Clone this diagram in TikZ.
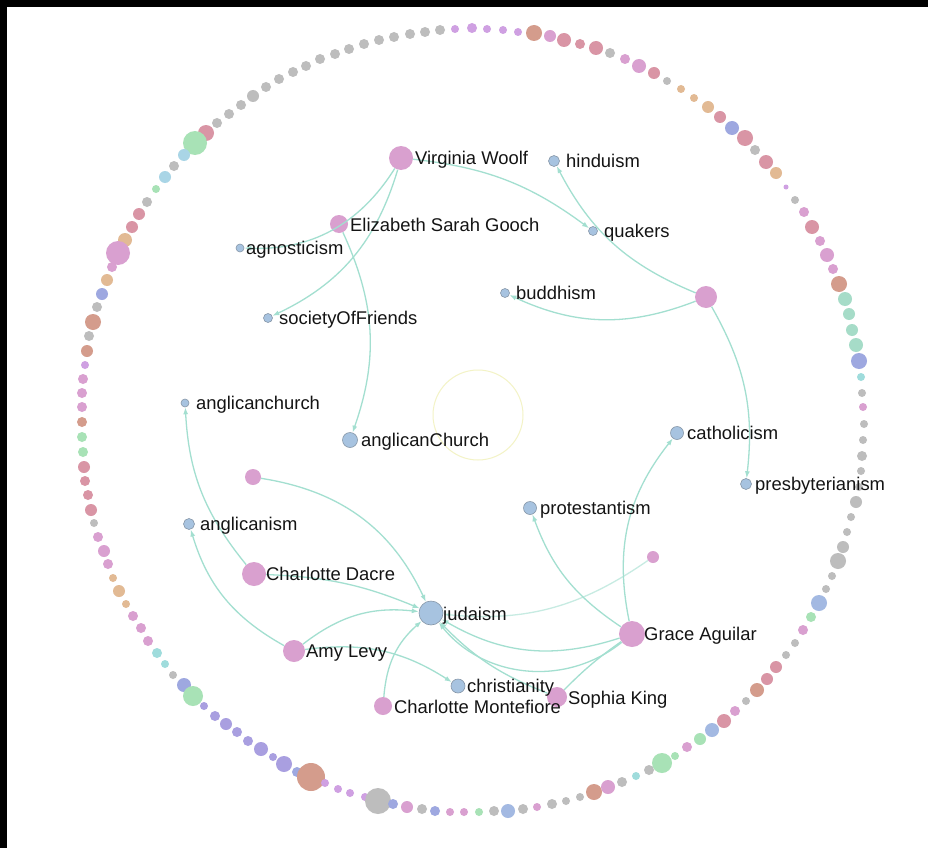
\documentclass[tikz,border=0pt]{standalone}
\usepackage{fontspec}
\setmainfont{Liberation Sans}
\usetikzlibrary{arrows.meta}
\definecolor{edgec}{HTML}{A3DFD0}
\definecolor{pinkn}{HTML}{D9A0CF}
\definecolor{bluen}{HTML}{A7C3E0}
\definecolor{bluestroke}{HTML}{8797A8}
\definecolor{yelc}{HTML}{F3F3C6}
\definecolor{gr}{HTML}{BDBDBD}
\definecolor{pk}{HTML}{D9A0D0}
\definecolor{rs}{HTML}{D995A5}
\definecolor{sm}{HTML}{D49C8C}
\definecolor{tn}{HTML}{E2BA94}
\definecolor{pu}{HTML}{CFA0E2}
\definecolor{bp}{HTML}{9EA8E0}
\definecolor{lv}{HTML}{A99FE0}
\definecolor{gn}{HTML}{A8E2B6}
\definecolor{tg}{HTML}{A6DCC8}
\definecolor{lb}{HTML}{A9D5E6}
\definecolor{bl}{HTML}{A3B9E2}
\definecolor{tl}{HTML}{9FDCDC}
\begin{document}
\begin{tikzpicture}[x=1pt,y=1pt,
  pn/.style={circle,fill=pinkn,draw=none,inner sep=0pt,minimum size=#1},
  bn/.style={circle,fill=bluen,draw=bluestroke,line width=0.6pt,inner sep=0pt,minimum size=#1},
  edge/.style={draw=edgec,line width=1.3pt,-{Latex[length=7pt,width=5pt]}},
  lbl/.style={anchor=base west,inner sep=0pt,font=\fontsize{18.4}{21}\selectfont,text=black!92}]
\useasboundingbox (0,0) rectangle (928,-848);
\fill[white] (0,0) rectangle (928,-848);
\fill[black] (0,0) rectangle (928,-7);
\fill[black] (0,0) rectangle (7,-848);
% ring of dots
\foreach \x/\y/\r/\c in {
472/28/5/pu,455/29/4/pu,440/30/5/gr,425/32/5/gr,410/34/5/gr,394/37/5/gr,379/40/5/gr,364/44/5/gr,349/49/5/gr,335/54/5/gr,320/59/5/gr,306/66/5/gr,293/72/5/gr,279/79/5/gr,266/87/5/gr,253/96/6/gr,241/105/5/gr,229/114/5/gr,217/123/5/gr,
206/133/8/rs,195/143/12/gn,184/155/6/lb,174/166/5/gr,165/177/6/lb,156/189/4/gn,147/202/5/gr,139/214/6/rs,132/227/6/rs,125/240/7/tn,118/253/12/pk,112/267/5/pk,107/280/6/tn,102/294/6/bp,97/307/5/gr,93/322/8/sm,89/336/5/gr,87/351/6/sm,85/365/4/pu,83/379/5/pk,82/393/5/pk,82/407/5/pk,82/422/5/sm,
82/437/5/gn,83/452/5/gn,84/467/6/rs,85/481/5/rs,88/495/5/rs,91/510/6/rs,94/523/4/gr,98/537/5/pk,104/551/6/pk,108/564/5/pk,113/578/4/tn,119/591/6/tn,126/604/4/tn,133/616/5/pk,141/628/5/pk,148/641/5/pk,157/653/5/tl,165/664/4/tl,173/675/4/gr,184/685/7/bp,193/696/10/gn,
204/706/4/lv,215/716/5/lv,226/724/6/lv,237/732/5/lv,248/741/5/lv,261/749/7/lv,273/757/4/lv,284/764/8/lv,297/772/5/bp,311/777/14/sm,325/783/4/pu,338/789/4/pu,350/793/4/pu,365/797/4/pu,378/801/13/gr,393/804/5/bp,407/807/6/pk,422/809/5/gr,435/811/5/bp,450/812/4/pk,464/812/4/pk,
479/812/4/gn,494/811/5/gr,508/811/7/bl,523/809/5/gr,537/807/4/pk,552/804/5/gr,566/801/4/gr,580/797/4/gr,594/792/8/sm,608/787/7/pk,622/782/5/gr,636/776/4/tl,649/770/5/gr,662/763/10/gn,675/756/4/gn,687/747/5/pk,700/739/6/gn,712/730/7/bl,724/721/7/rs,735/711/5/pk,746/701/4/gr,757/690/7/sm,767/679/6/rs,776/667/6/rs,786/655/4/gr,795/643/4/gr,803/630/5/pk,811/617/5/gn,819/603/8/bl,826/589/4/gr,832/576/4/gr,838/561/8/gr,843/547/6/gr,847/532/4/gr,851/517/4/gr,856/502/6/gr,859/487/4/gr,861/471/4/gr,862/456/5/gr,863/440/4/gr,864/424/4/gr,
863/407/4/pk,862/393/4/gr,861/377/4/tl,859/361/8/bp,856/345/7/tg,852/330/6/tg,849/314/6/tg,845/299/7/tg,839/284/8/sm,833/269/5/pk,827/255/7/pk,820/241/5/pk,812/227/7/rs,804/212/5/pk,795/200/4/gr,786/187/2.5/pu,776/173/6/tn,766/162/7/rs,755/150/5/gr,745/138/8/rs,732/128/7/bp,720/117/6/rs,708/107/6/tn,694/98/4/tn,681/89/4/tn,667/81/4/gr,654/73/6/rs,639/66/7/pk,625/59/5/pk,610/53/5/gr,596/48/7/rs,580/44/5/rs,564/40/7/rs,550/36/6/pk,534/33/8/sm,518/32/4/pu,503/30/4/pu,487/29/4/pu}
  {\fill[\c] (\x,-\y) circle[radius=\r];}
% faint centre circle
\draw[yelc,line width=1pt] (478,-415) circle[radius=45];
% nodes
\node[pn=24] (vw) at (401,-158) {};
\node[pn=18] (eg) at (339,-224) {};
\node[bn=8] (agn) at (240,-248) {};
\node[bn=9] (sof) at (268,-318) {};
\node[bn=11] (hind) at (554,-161) {};
\node[bn=9] (quak) at (593,-231) {};
\node[bn=9] (budd) at (505,-293) {};
\node[pn=22] (p1) at (706,-297) {};
\node[bn=8] (angch) at (185,-403) {};
\node[bn=15] (angC) at (350,-440) {};
\node[bn=13] (cath) at (677,-433) {};
\node[bn=11] (presb) at (746,-484) {};
\node[pn=16] (p2) at (253,-477) {};
\node[bn=13] (prot) at (530,-508) {};
\node[bn=11] (angl) at (189,-524) {};
\node[pn=12] (p3) at (653,-557) {};
\node[pn=24] (cd) at (254,-574) {};
\node[bn=24] (jud) at (431,-613) {};
\node[pn=26] (ga) at (632,-634) {};
\node[pn=22] (al) at (294,-651) {};
\node[bn=14] (chr) at (458,-686) {};
\node[pn=20] (sk) at (557,-697) {};
\node[pn=18] (cm) at (383,-706) {};
% edges
\draw[edge] (vw) to[bend left=30] (agn);
\draw[edge] (vw) to[bend left=24] (sof);
\draw[edge] (eg) to[bend left=22] (angC);
\draw[edge] (vw) to[bend left=15] (quak);
\draw[edge] (p1) to[bend left=20] (hind);
\draw[edge] (p1) to[bend left=23] (budd);
\draw[edge] (p1) to[bend left=18] (presb);
\draw[edge] (cd) to[bend left=18] (angch);
\draw[edge] (al) to[bend left=22] (angl);
\draw[edge] (p2) to[bend left=28] (jud);
\draw[edge] (cd) to[bend left=10] (jud);
\draw[edge] (al) to[bend left=22] (jud);
\draw[edge] (al) to[bend left=20] (chr);
\draw[edge] (cm) to[bend left=22] (jud);
\draw[edge] (sk) to[bend left=12] (jud);
\draw[edge] (ga) to[bend left=24] (jud);
\draw[edge] (ga) to[bend left=45] (jud);
\draw[edge,-] (ga) to[bend right=5] (sk);
\draw[edge,draw opacity=0.6] (p3) to[bend left=20] (jud);
\draw[edge] (ga) to[bend left=18] (prot);
\draw[edge] (ga) to[bend left=25] (cath);
% labels
\node[lbl] (vwl) at (415,-164) {Virginia Woolf};
\node[lbl] (egl) at (350,-231) {Elizabeth Sarah Gooch};
\node[lbl] (agnl) at (246,-254) {agnosticism};
\node[lbl] (sofl) at (279,-324) {societyOfFriends};
\node[lbl] (hindl) at (566,-167) {hinduism};
\node[lbl] (quakl) at (604,-237) {quakers};
\node[lbl] (buddl) at (516,-299) {buddhism};
\node[lbl] (angchl) at (196,-409) {anglicanchurch};
\node[lbl] (angCl) at (361,-446) {anglicanChurch};
\node[lbl] (cathl) at (687,-439) {catholicism};
\node[lbl] (presbl) at (755,-490) {presbyterianism};
\node[lbl] (protl) at (540,-514) {protestantism};
\node[lbl] (angll) at (200,-530) {anglicanism};
\node[lbl] (cdl) at (266,-580) {Charlotte Dacre};
\node[lbl] (judl) at (443,-620) {judaism};
\node[lbl] (gal) at (644,-640) {Grace Aguilar};
\node[lbl] (all) at (306,-657) {Amy Levy};
\node[lbl] (chrl) at (467,-692) {christianity};
\node[lbl] (skl) at (568,-704) {Sophia King};
\node[lbl] (cml) at (394,-713) {Charlotte Montefiore};
\end{tikzpicture}
\end{document}
